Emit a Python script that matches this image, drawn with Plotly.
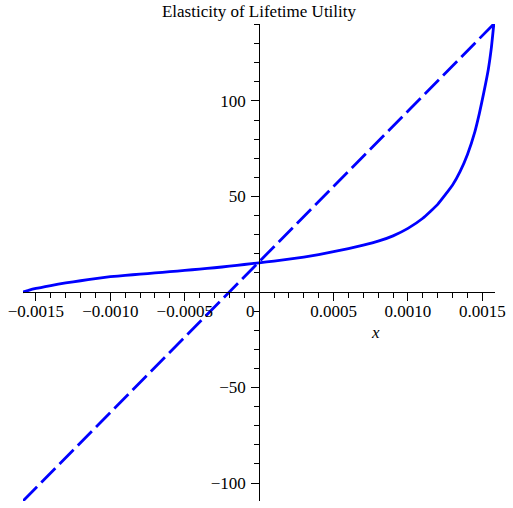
import plotly.graph_objects as go

# Elasticity curve sampled along x
x_curve = [-0.001587, -0.00155, -0.00150, -0.00140, -0.00130, -0.00120, -0.00110,
           -0.00100, -0.00090, -0.00080, -0.00070, -0.00060, -0.00050, -0.00040,
           -0.00030, -0.00020, -0.00010, 0.0, 0.00010, 0.00020, 0.00030, 0.00040,
           0.00050, 0.00060, 0.00070, 0.00080, 0.00090, 0.00100, 0.00110, 0.00120,
           0.00130, 0.00135, 0.00140, 0.00145, 0.00148, 0.00151, 0.00154, 0.00156,
           0.001577]
y_curve = [0.0, 0.9, 1.9, 3.4, 4.8, 5.9, 7.0,
           8.0, 8.7, 9.35, 10.0, 10.65, 11.3, 12.0,
           12.7, 13.5, 14.4, 15.3, 16.2, 17.2, 18.3, 19.6,
           21.1, 22.7, 24.5, 26.6, 29.4, 33.3, 38.6, 45.9,
           56.0, 63.0, 72.0, 84.0, 93.5, 104.5, 116.5, 127.5,
           140.3]

# Straight comparison line (end points)
x_line = [-0.001587, 0.001577]
y_line = [-109.4, 140.3]

# Axis settings
x_range = [-0.001587, 0.001585]
y_range = [-109.4, 140.3]
x_tick_vals = [-0.0015, -0.0010, -0.0005, 0.0005, 0.0010, 0.0015]
x_tick_text = ["\u22120.0015", "\u22120.0010", "\u22120.0005", "0.0005", "0.0010", "0.0015"]
y_tick_vals = [-100, -50, 50, 100]
y_tick_text = ["\u2212100", "\u221250", "50", "100"]

FONT = "Liberation Serif, Times New Roman, serif"
BLUE = "#0000FF"
FSIZE = 17

fig = go.Figure()
fig.add_trace(go.Scatter(x=x_line, y=y_line, mode="lines",
                         line=dict(color=BLUE, width=2.8, dash="20px,6px"),
                         showlegend=False, hoverinfo="skip"))
fig.add_trace(go.Scatter(x=x_curve, y=y_curve, mode="lines",
                         line=dict(color=BLUE, width=2.8, shape="spline", smoothing=0.4),
                         showlegend=False, hoverinfo="skip"))

# axes cross at the origin
x_axis_pos = (0 - y_range[0]) / (y_range[1] - y_range[0])
y_axis_pos = (0 - x_range[0]) / (x_range[1] - x_range[0])

fig.update_layout(
    width=513, height=508,
    margin=dict(l=23, r=11, t=24, b=7),
    paper_bgcolor="white", plot_bgcolor="white",
    font=dict(family=FONT, size=FSIZE, color="black"),
    title=dict(text="Elasticity of Lifetime Utility", x=0.5, xref="paper",
               y=1 - 11 / 508, yanchor="middle", yref="container",
               font=dict(family=FONT, size=FSIZE, color="black")),
    xaxis=dict(range=x_range, anchor="free", position=x_axis_pos,
               showgrid=False, zeroline=False, showline=True, linecolor="black",
               linewidth=1, ticks="outside", ticklen=8, tickwidth=1, tickcolor="black",
               tickmode="array", tickvals=x_tick_vals, ticktext=x_tick_text,
               ticklabelstandoff=-4,
               minor=dict(tickmode="linear", tick0=0, dtick=0.0001, ticks="outside",
                          ticklen=5, tickwidth=1, tickcolor="black", showgrid=False)),
    yaxis=dict(range=y_range, anchor="free", position=y_axis_pos,
               showgrid=False, zeroline=False, showline=True, linecolor="black",
               linewidth=1, ticks="outside", ticklen=8, tickwidth=1, tickcolor="black",
               tickmode="array", tickvals=y_tick_vals, ticktext=y_tick_text,
               ticklabelstandoff=2,
               minor=dict(tickmode="linear", tick0=0, dtick=10, ticks="outside",
                          ticklen=5, tickwidth=1, tickcolor="black", showgrid=False)),
)

fig.add_annotation(x=0, y=0, text="0", showarrow=False, xanchor="right", yanchor="top",
                   xshift=-2, yshift=-8, font=dict(family=FONT, size=FSIZE, color="black"))
fig.add_annotation(x=0.00078, y=-21, text="<i>x</i>", showarrow=False,
                   font=dict(family=FONT, size=FSIZE, color="black"))

fig.write_html("out.html")
